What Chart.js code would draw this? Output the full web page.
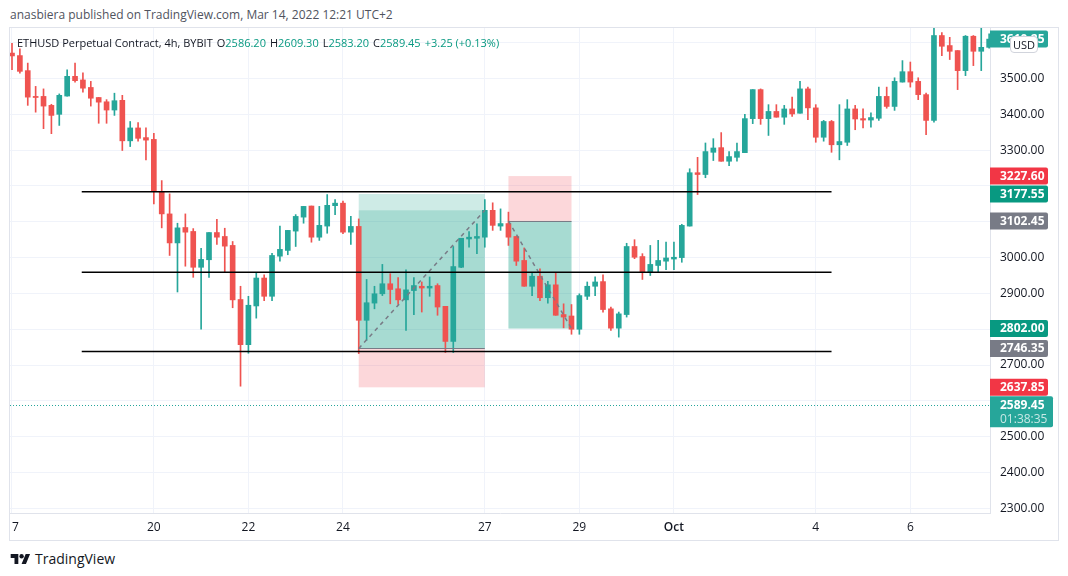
<!DOCTYPE html>
<html>
<head>
<meta charset="utf-8">
<title>ETHUSD 4h</title>
<script src="https://cdn.jsdelivr.net/npm/chart.js@4"></script>
<style>
    html, body { margin: 0; padding: 0; background: #fff; width: 1068px; height: 576px; overflow: hidden; font-family: "Open Sans", Roboto, sans-serif; }
    #pub { position: absolute; left: 10px; top: 6px; font-size: 12px; color: #50535e; white-space: nowrap; }
    #frame { position: absolute; left: 9px; top: 27px; width: 1048px; height: 512px; border: 1px solid #e0e3eb; }
    #frame canvas { position: absolute; left: 0; top: 0; }
    #legend { position: absolute; left: 17px; top: 35px; font-size: 11px; color: #131722; white-space: nowrap; }
    #legend .v { color: #089981; }
    #legend .g { margin-left: 4px; }
    #usd { position: absolute; left: 1010px; top: 36px; width: 26px; height: 15px; background: #fff; border: 1px solid #d1d4dc; border-radius: 4px; font-size: 11px; line-height: 15px; text-align: center; color: #131722; }
    #footer { position: absolute; left: 10px; top: 549px; font-size: 14px; color: #131722; display: flex; align-items: center; }
    #footer svg { margin-right: 4px; }
</style>
</head>
<body>
<div id="pub">anasbiera published on TradingView.com, Mar 14, 2022 12:21 UTC+2</div>
<div id="frame"><canvas id="chart" width="1048" height="512"></canvas></div>
<div id="legend">ETHUSD Perpetual Contract, 4h, BYBIT<span class="g">O<span class="v">2586.20</span></span><span class="g">H<span class="v">2609.30</span></span><span class="g">L<span class="v">2583.20</span></span><span class="g">C<span class="v">2589.45</span></span><span class="g v">+3.25 (+0.13%)</span></div>
<div id="usd">USD</div>
<div id="footer">
    <svg width="21" height="12" viewBox="0 0 36 22"><path fill="#131722" d="M14 20H7V9H0V2h14v18zM28 20h-8l7.5-18h8L28 20z"/><circle fill="#131722" cx="20" cy="6" r="4"/></svg>
    <span>TradingView</span>
</div>
<script>
// 4h candles, index 0 = Sep 17 00:00
const opens  = [3571,3564,3522,3450,3450,3425,3400,3451,3506,3496,3475,3447,3435,3412,3439,3326,3362,3335,3330,3185,
                3122,3041,3084,3073,2973,2994,3070,3059,3034,2883,2757,2865,2943,2892,3004,3020,3074,3113,3144,3057,
                3088,3145,3152,3071,3087,2825,2873,2899,2927,2913,2882,2908,2920,2915,2922,2864,2766,2973,3052,3054,
                3057,3132,3088,3095,3059,2992,2920,2948,2888,2924,2841,2837,2800,2892,2920,2933,2857,2803,2841,3031,
                3003,2960,2978,2990,2996,3000,3088,3237,3232,3294,3307,3269,3280,3293,3388,3469,3388,3408,3392,3415,
                3403,3471,3418,3336,3380,3315,3322,3415,3388,3384,3389,3450,3422,3490,3519,3492,3455,3383,3620,3592,
                3578,3522,3618,3576,3587];
const highs  = [3598,3583,3543,3478,3471,3428,3457,3524,3543,3516,3492,3447,3441,3459,3453,3380,3377,3362,3347,3215,
                3178,3096,3122,3081,3026,3070,3107,3082,3045,2920,2892,2957,2952,3012,3088,3076,3120,3143,3144,3143,
                3176,3162,3158,3115,3108,2939,2920,2981,2955,2944,2966,2944,2932,2946,2927,2864,3031,3054,3073,3094,
                3162,3153,3136,3127,3059,3027,2957,2969,2934,2957,2871,2869,2899,2932,2946,2952,2862,2848,3040,3050,
                3011,3034,3048,3043,3043,3093,3248,3280,3320,3332,3349,3296,3320,3400,3469,3471,3427,3427,3425,3448,
                3492,3476,3427,3383,3383,3427,3441,3425,3415,3404,3476,3476,3502,3550,3546,3502,3459,3641,3628,3615,
                3578,3620,3620,3643,3625];
const lows   = [3525,3515,3425,3406,3360,3346,3369,3451,3490,3462,3423,3375,3375,3397,3299,3310,3325,3273,3150,3083,
                3006,2904,2976,2945,2800,2945,3037,2960,2860,2641,2733,2831,2880,2880,2990,3008,3031,3096,3043,3048,
                3068,3120,3067,3037,2732,2769,2857,2894,2871,2869,2797,2841,2848,2892,2839,2735,2735,2972,3029,3011,
                3029,3076,3076,3034,2978,2920,2894,2880,2873,2839,2804,2786,2786,2883,2894,2848,2797,2778,2834,2997,
                2939,2950,2961,2966,2966,2987,3088,3176,3223,3271,3269,3257,3269,3293,3374,3372,3341,3392,3372,3394,
                3403,3385,3322,3325,3294,3273,3313,3357,3362,3364,3383,3417,3411,3490,3476,3441,3343,3378,3564,3553,
                3469,3508,3536,3522,3585];
const closes = [3563,3520,3448,3447,3423,3397,3453,3506,3494,3473,3445,3434,3412,3438,3326,3362,3333,3328,3185,3122,
                3041,3083,3071,2973,2995,3070,3057,3032,2882,2757,2867,2943,2892,3006,3023,3076,3115,3143,3057,3090,
                3146,3152,3071,3087,2825,2874,2899,2927,2911,2882,2910,2922,2915,2920,2862,2766,2975,3054,3057,3059,
                3132,3090,3095,3057,2990,2920,2948,2888,2924,2839,2834,2800,2894,2920,2932,2855,2803,2843,3031,3001,
                2960,2981,2992,2999,3001,3090,3237,3232,3296,3306,3269,3282,3296,3388,3469,3388,3408,3392,3415,3401,
                3471,3418,3336,3380,3315,3324,3415,3387,3384,3391,3450,3422,3492,3519,3490,3455,3383,3620,3590,3576,
                3522,3618,3576,3587,3610];

const dayTickIdx  = [0, 18, 30, 42, 60, 72, 84, 102, 114];
const dayTickText = ['17', '20', '22', '24', '27', '29', 'Oct', '4', '6'];
const priceTicks  = [2300, 2400, 2500, 2600, 2700, 2800, 2900, 3000, 3100, 3200, 3300, 3400, 3500, 3600];

// drawings (prices / candle indices)
const levelPrices = [3184, 2959, 2738];
const levelSpan   = [8.85, 104];
const longPos  = { side: 'long',  from: 44, to: 60, entry: 2746.35, target: 3177.55, stop: 2637.85, close: 3132 };
const shortPos = { side: 'short', from: 63, to: 71, entry: 3102.45, target: 2802.00, stop: 3227.60, close: 2802 };

// right-axis tags
const tagPrices = [3610.25, 3227.60, 3177.55, 3102.45, 2802.00, 2746.35, 2637.85];
const tagKinds  = ['bar', 'stop', 'target', 'entry', 'target', 'entry', 'stop'];
const lastPrice = 2589.45;
const countdown = '01:38:35';

const UP = '#26a69a';
const DOWN = '#ef5350';
const PROFIT_FILL = 'rgba(8, 153, 129, 0.2)';
const LOSS_FILL = 'rgba(242, 54, 69, 0.2)';
const TAG_COLORS = { bar: '#26a69a', stop: '#f23645', target: '#089981', entry: '#787b86' };
const FONT = '"Open Sans", Roboto, sans-serif';

const candleColor = (i) => closes[i] >= opens[i] ? UP : DOWN;

// position tool boxes under the candles
function drawPosition(ctx, xs, ys, p) {
    const x0 = xs.getPixelForValue(p.from);
    const x1 = xs.getPixelForValue(p.to);
    const yE = ys.getPixelForValue(p.entry);
    const yT = ys.getPixelForValue(p.target);
    const yS = ys.getPixelForValue(p.stop);
    const yC = ys.getPixelForValue(p.close);
    ctx.fillStyle = PROFIT_FILL;
    ctx.fillRect(x0, Math.min(yE, yT), x1 - x0, Math.abs(yT - yE));
    ctx.fillStyle = LOSS_FILL;
    ctx.fillRect(x0, Math.min(yE, yS), x1 - x0, Math.abs(yS - yE));
    const inProfit = p.side === 'long' ? p.close > p.entry : p.close < p.entry;
    ctx.fillStyle = inProfit ? PROFIT_FILL : LOSS_FILL;
    ctx.fillRect(x0, Math.min(yE, yC), x1 - x0, Math.abs(yC - yE));
}

function drawPositionLines(ctx, xs, ys, p) {
    const x0 = xs.getPixelForValue(p.from);
    const x1 = xs.getPixelForValue(p.to);
    const yE = ys.getPixelForValue(p.entry);
    const yC = ys.getPixelForValue(p.close);
    ctx.strokeStyle = '#787b86';
    ctx.lineWidth = 1;
    ctx.setLineDash([]);
    ctx.beginPath();
    ctx.moveTo(x0, Math.round(yE) + 0.5);
    ctx.lineTo(x1, Math.round(yE) + 0.5);
    ctx.stroke();
    ctx.lineWidth = 1.5;
    ctx.setLineDash([4, 4]);
    ctx.beginPath();
    ctx.moveTo(x0, yE);
    ctx.lineTo(x1, yC);
    ctx.stroke();
    ctx.setLineDash([]);
}

function drawTag(ctx, x, y, w, h, color) {
    ctx.fillStyle = color;
    ctx.beginPath();
    ctx.roundRect(x, y - h / 2, w, h, [0, 2, 2, 0]);
    ctx.fill();
}

const overlayPlugin = {
    id: 'overlay',
    beforeDatasetsDraw(chart) {
        const { ctx, chartArea: a, scales: { x, y } } = chart;
        ctx.save();
        ctx.beginPath();
        ctx.rect(a.left, a.top, a.right - a.left, a.bottom - a.top);
        ctx.clip();
        drawPosition(ctx, x, y, longPos);
        drawPosition(ctx, x, y, shortPos);
        ctx.restore();
    },
    afterDatasetsDraw(chart) {
        const { ctx, chartArea: a, scales: { x, y } } = chart;
        ctx.save();
        ctx.beginPath();
        ctx.rect(a.left, a.top, a.right - a.left, a.bottom - a.top);
        ctx.clip();
        drawPositionLines(ctx, x, y, longPos);
        drawPositionLines(ctx, x, y, shortPos);
        // horizontal levels
        ctx.strokeStyle = '#000';
        ctx.lineWidth = 1.5;
        levelPrices.forEach(p => {
            const py = y.getPixelForValue(p);
            ctx.beginPath();
            ctx.moveTo(x.getPixelForValue(levelSpan[0]), py);
            ctx.lineTo(x.getPixelForValue(levelSpan[1]), py);
            ctx.stroke();
        });
        // last price line
        const ly = Math.round(y.getPixelForValue(lastPrice)) + 0.5;
        ctx.strokeStyle = UP;
        ctx.lineWidth = 1;
        ctx.setLineDash([1, 2]);
        ctx.beginPath();
        ctx.moveTo(a.left, ly);
        ctx.lineTo(a.right, ly);
        ctx.stroke();
        ctx.restore();
    },
    afterDraw(chart) {
        const { ctx, chartArea: a, scales: { y } } = chart;
        ctx.save();
        ctx.font = 'bold 12px ' + FONT;
        ctx.textAlign = 'left';
        ctx.textBaseline = 'middle';
        tagPrices.forEach((p, i) => {
            const py = y.getPixelForValue(p);
            drawTag(ctx, a.right, py, 58, 17, TAG_COLORS[tagKinds[i]]);
            ctx.fillStyle = '#fff';
            ctx.fillText(p.toFixed(2), a.right + 10, py + 0.5);
        });
        const ly = y.getPixelForValue(lastPrice);
        drawTag(ctx, a.right, ly + 7, 63, 31, UP);
        ctx.fillStyle = '#fff';
        ctx.fillText(lastPrice.toFixed(2), a.right + 10, ly + 0.5);
        ctx.fillStyle = 'rgba(255, 255, 255, 0.75)';
        ctx.font = '12px ' + FONT;
        ctx.fillText(countdown, a.right + 10, ly + 15);
        ctx.restore();
    }
};

const idx = opens.map((_, i) => i);

new Chart(document.getElementById('chart'), {
    type: 'bar',
    data: {
        datasets: [
            {
                label: 'body',
                data: idx.map(i => ({ x: i, y: [opens[i], closes[i]] })),
                backgroundColor: idx.map(candleColor),
                barThickness: 5,
                minBarLength: 1,
                grouped: false,
                order: 1
            },
            {
                label: 'wick',
                data: idx.map(i => ({ x: i, y: [lows[i], highs[i]] })),
                backgroundColor: idx.map(candleColor),
                barThickness: 1,
                grouped: false,
                order: 2
            }
        ]
    },
    options: {
        responsive: false,
        animation: false,
        layout: { padding: 0, autoPadding: false },
        plugins: {
            legend: { display: false },
            tooltip: { enabled: false }
        },
        scales: {
            x: {
                type: 'linear',
                min: -0.2538,
                max: 124.11,
                offset: false,
                afterBuildTicks: (s) => { s.ticks = dayTickIdx.map(v => ({ value: v })); },
                afterFit: (s) => { s.height = 27; s.paddingLeft = 0; s.paddingRight = 0; },
                grid: { color: '#f0f3fa', drawTicks: false, offset: false },
                border: { color: '#e0e3eb' },
                ticks: {
                    autoSkip: false,
                    maxRotation: 0,
                    padding: 7,
                    color: '#131722',
                    font: (c) => ({ family: FONT, size: 12, weight: c.tick && c.tick.value === 84 ? '600' : 'normal' }),
                    callback: (v) => dayTickText[dayTickIdx.indexOf(v)]
                }
            },
            y: {
                position: 'right',
                min: 2287,
                max: 3641,
                afterBuildTicks: (s) => { s.ticks = priceTicks.map(v => ({ value: v })); },
                afterFit: (s) => { s.width = 68; s.paddingTop = 0; s.paddingBottom = 0; },
                grid: { color: '#f0f3fa', drawTicks: false },
                border: { color: '#e0e3eb' },
                ticks: {
                    padding: 10,
                    color: '#131722',
                    font: { family: FONT, size: 12 },
                    callback: (v) => {
                        const near = tagPrices.concat([lastPrice]).some(p => Math.abs(p - v) < 30);
                        return near ? '' : v.toFixed(2);
                    }
                }
            }
        }
    },
    plugins: [overlayPlugin]
});
</script>
</body>
</html>
